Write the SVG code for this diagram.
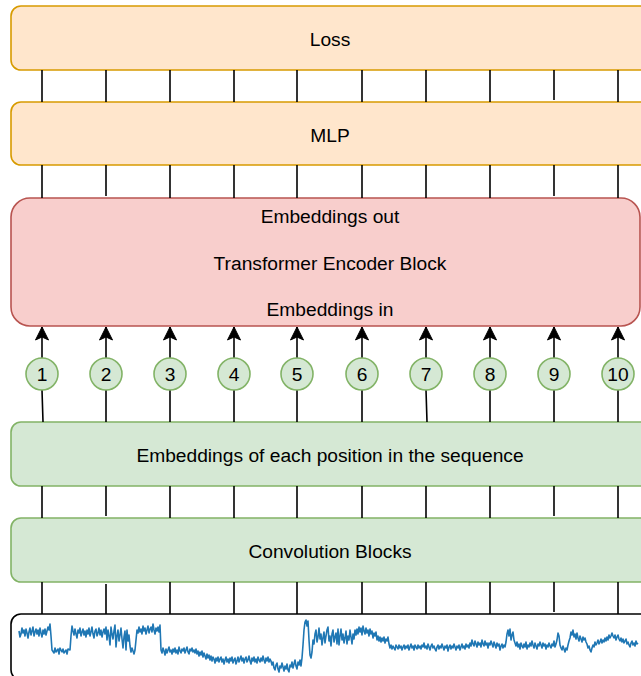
<svg xmlns="http://www.w3.org/2000/svg" width="641" height="676" viewBox="0 0 641 676">
<defs>
<style>
.orange{fill:#ffe6cc;stroke:#d79b00;stroke-width:1.6}
.pink{fill:#f8cecc;stroke:#b85450;stroke-width:1.6}
.green{fill:#d5e8d4;stroke:#82b366;stroke-width:1.6}
.sig{fill:#ffffff;stroke:#000000;stroke-width:1.6}
.lbl{font-family:"Liberation Sans",Arial,sans-serif;font-size:19.2px;fill:#000000;text-anchor:middle}
.conn line{stroke:#000000;stroke-width:1.6;fill:none}
.wave{fill:none;stroke:#1f77b4;stroke-width:1.6;stroke-linejoin:round}
</style>
<marker id="arr" markerUnits="userSpaceOnUse" markerWidth="16" markerHeight="16" viewBox="-14 -8 16 16" refX="0" refY="0" orient="auto">
<path d="M0,0 L-13,-6.5 L-10,0 L-13,6.5 Z" fill="#000000" stroke="#000000" stroke-width="1"/>
</marker>
</defs>
<rect x="0" y="0" width="641" height="676" fill="#ffffff"/>

<g id="loss">
<rect class="orange" x="11" y="6" width="640" height="64" rx="10" ry="10"/>
<text class="lbl" x="330" y="46">Loss</text>
</g>
<g id="mlp">
<rect class="orange" x="11" y="102" width="640" height="63" rx="10" ry="10"/>
<text class="lbl" x="330" y="142">MLP</text>
</g>
<g id="transformer">
<rect class="pink" x="11" y="198" width="629" height="128" rx="19" ry="19"/>
<text class="lbl" x="330" y="223">Embeddings out</text>
<text class="lbl" x="330" y="270">Transformer Encoder Block</text>
<text class="lbl" x="330" y="316">Embeddings in</text>
</g>
<g id="embeddings">
<rect class="green" x="11" y="422" width="640" height="64" rx="10" ry="10"/>
<text class="lbl" x="330" y="462">Embeddings of each position in the sequence</text>
</g>
<g id="convolution">
<rect class="green" x="11" y="518" width="640" height="64" rx="10" ry="10"/>
<text class="lbl" x="330" y="558">Convolution Blocks</text>
</g>
<g id="signal">
<rect class="sig" x="11" y="614" width="640" height="66" rx="10" ry="10"/>
<polyline class="wave" points="19,631 20,637 21,634 22,628 23,633 24,630 25,636 26,629 27,633 28,638 29,632 30,628 31,635 32,631 33,627 34,636 35,632 36,629 37,634 38,630 39,636 40,628 41,633 42,637 43,630 44,634 45,629 46,635 47,631 48,627 49,630 50,624 51,636 52,650 54,653 55,648 56,652 58,649 59,654 60,648 62,652 63,649 64,653 66,650 67,654 68,649 70,650 71,636 72,626 73,631 74,635 75,629 76,634 77,638 78,630 79,633 80,628 81,636 82,632 83,629 84,635 85,631 86,637 87,630 88,634 89,628 90,636 91,632 92,627 93,634 94,638 95,631 96,629 97,636 98,633 99,628 100,635 101,630 102,637 103,632 104,629 105,634 106,627 107,640 108,630 109,636 110,645 111,627 112,634 113,639 114,631 115,625 116,647 117,636 118,630 119,641 120,635 121,628 122,639 123,648 124,637 125,631 126,650 127,630 128,641 129,635 130,646 131,652 132,648 133,651 134,654 135,650 136,640 137,630 138,633 139,627 140,632 141,629 142,634 143,626 144,631 145,628 146,634 147,630 148,626 149,633 150,629 151,627 152,632 153,624 154,630 155,634 156,628 157,631 158,627 159,632 160,625 161,650 162,653 163,648 164,651 165,655 166,649 167,653 168,650 169,647 170,652 171,650 172,654 173,649 174,652 175,648 176,653 177,650 178,654 179,647 180,651 181,653 182,649 183,651 184,648 185,653 186,650 187,647 188,652 189,654 190,649 191,651 192,648 193,652 194,650 195,653 196,649 197,654 198,651 199,656 200,652 201,655 202,651 203,657 204,653 205,656 206,659 207,654 208,658 209,655 210,660 211,656 212,661 213,657 214,659 215,663 216,658 217,661 218,657 219,662 220,659 221,657 222,662 223,659 224,664 225,660 226,657 227,662 228,659 229,663 230,658 231,661 232,657 233,663 234,660 235,658 236,664 237,661 238,657 239,662 240,659 241,656 242,661 243,658 244,663 245,659 246,657 247,662 248,660 249,656 250,661 251,664 252,658 253,661 254,657 255,662 256,659 257,663 258,657 259,660 260,662 261,658 262,661 263,656 264,660 265,663 266,658 267,661 268,657 269,662 270,659 271,661 272,665 273,662 274,668 275,670 276,665 277,663 278,669 279,672 280,666 281,668 282,663 283,667 284,671 285,666 286,669 287,664 288,670 289,672 290,665 291,667 292,662 293,668 294,664 295,660 296,666 297,669 298,662 299,665 300,660 301,666 302,658 303,645 304,630 305,622 306,620 307,626 308,621 309,640 310,655 311,658 312,652 313,640 314,644 315,634 316,630 317,642 318,637 319,628 320,639 321,634 322,645 323,638 324,632 325,643 326,636 327,630 328,627 329,641 330,636 331,646 332,634 333,630 334,642 335,637 336,633 337,644 338,629 339,645 340,636 341,629 342,640 343,634 344,643 345,638 346,631 347,644 348,636 349,640 350,630 351,637 352,644 353,634 354,639 355,630 356,635 357,629 358,634 359,627 360,632 361,628 362,635 363,626 364,631 365,634 366,628 367,633 368,630 369,636 370,629 371,634 372,631 373,638 374,633 375,636 376,632 377,640 378,636 379,641 380,637 381,642 382,638 383,641 384,637 385,643 386,639 387,641 388,637 389,644 390,648 391,645 392,649 393,646 394,648 395,650 396,645 397,647 398,649 399,645 400,648 401,646 402,650 403,647 404,645 405,649 406,646 407,648 408,645 409,650 410,647 411,644 412,648 413,646 414,650 415,645 416,647 417,649 418,645 419,648 420,646 421,649 422,645 423,647 424,643 425,648 426,646 427,649 428,644 429,647 430,650 431,646 432,644 433,648 434,646 435,649 436,651 437,647 438,645 439,649 440,646 441,648 442,644 443,647 444,650 445,646 446,648 447,645 448,651 449,647 450,645 451,649 452,646 453,648 454,644 455,647 456,650 457,646 458,648 459,645 460,650 461,647 462,644 463,648 464,646 465,649 466,644 467,647 468,645 469,648 470,643 471,646 472,640 473,644 474,646 475,641 476,644 477,647 478,642 479,645 480,643 481,647 482,640 483,644 484,646 485,641 486,645 487,643 488,648 489,643 490,645 491,641 492,644 493,647 494,642 495,645 496,648 497,643 498,646 499,644 500,650 501,646 502,644 503,648 504,645 505,647 506,642 507,634 508,630 509,636 510,629 511,640 512,635 513,632 514,640 515,643 516,646 517,642 518,647 519,644 520,649 521,643 522,646 523,648 524,644 525,647 526,642 527,649 528,645 529,647 530,643 531,646 532,641 533,645 534,648 535,643 536,646 537,649 538,644 539,646 540,642 541,645 542,648 543,643 544,646 545,644 546,649 547,645 548,647 549,643 550,646 551,648 552,644 553,646 554,641 555,647 556,644 557,640 558,633 559,636 560,645 561,648 562,650 563,646 564,649 565,652 566,648 567,650 568,645 569,641 570,638 571,632 572,635 573,630 574,637 575,634 576,639 577,633 578,638 579,641 580,636 581,639 582,642 583,637 584,640 585,638 586,642 587,644 588,648 589,646 590,650 591,652 592,648 593,645 594,647 595,642 596,645 597,643 598,640 599,644 600,642 601,639 602,643 603,640 604,642 605,638 606,641 607,637 608,640 609,635 610,638 611,636 612,633 613,636 614,638 615,635 616,640 617,637 618,635 619,639 620,641 621,638 622,642 623,639 624,643 625,641 626,639 627,644 628,642 629,645 630,647 631,643 632,641 633,645 634,643 635,646 636,641 637,644 638,643"/>
</g>

<g id="connectors" class="conn">
<line x1="42" y1="70" x2="42" y2="102"/><line x1="106" y1="70" x2="106" y2="102"/><line x1="170" y1="70" x2="170" y2="102"/><line x1="234" y1="70" x2="234" y2="102"/><line x1="297" y1="70" x2="297" y2="102"/><line x1="362" y1="70" x2="362" y2="102"/><line x1="426" y1="70" x2="426" y2="102"/><line x1="490" y1="70" x2="490" y2="102"/><line x1="554" y1="70" x2="554" y2="100"/><line x1="618" y1="70" x2="618" y2="102"/>
<line x1="42" y1="165" x2="42" y2="198"/><line x1="106" y1="165" x2="106" y2="196"/><line x1="170" y1="165" x2="170" y2="198"/><line x1="234" y1="165" x2="234" y2="198"/><line x1="297" y1="165" x2="297" y2="198"/><line x1="362" y1="165" x2="362" y2="198"/><line x1="426" y1="165" x2="426" y2="198"/><line x1="490" y1="165" x2="490" y2="198"/><line x1="554" y1="165" x2="554" y2="196"/><line x1="618" y1="165" x2="618" y2="198"/>
<line x1="43" y1="422" x2="42" y2="390"/><line x1="106" y1="422" x2="106" y2="390"/><line x1="170" y1="422" x2="170" y2="390"/><line x1="234" y1="422" x2="234" y2="390"/><line x1="297" y1="422" x2="297" y2="390"/><line x1="362" y1="422" x2="362" y2="390"/><line x1="427" y1="422" x2="426" y2="390"/><line x1="490" y1="422" x2="490" y2="390"/><line x1="554" y1="422" x2="554" y2="390"/><line x1="618" y1="422" x2="618" y2="390"/>
<line x1="42" y1="358" x2="42" y2="327" marker-end="url(#arr)"/><line x1="106" y1="358" x2="106" y2="327" marker-end="url(#arr)"/><line x1="170" y1="358" x2="170" y2="327" marker-end="url(#arr)"/><line x1="234" y1="358" x2="234" y2="327" marker-end="url(#arr)"/><line x1="297" y1="358" x2="297" y2="327" marker-end="url(#arr)"/><line x1="362" y1="358" x2="362" y2="327" marker-end="url(#arr)"/><line x1="426" y1="358" x2="426" y2="327" marker-end="url(#arr)"/><line x1="490" y1="358" x2="490" y2="327" marker-end="url(#arr)"/><line x1="554" y1="358" x2="554" y2="327" marker-end="url(#arr)"/><line x1="618" y1="358" x2="618" y2="327" marker-end="url(#arr)"/>
<line x1="42" y1="486" x2="42" y2="518"/><line x1="106" y1="486" x2="106" y2="516"/><line x1="170" y1="486" x2="170" y2="518"/><line x1="234" y1="486" x2="234" y2="518"/><line x1="297" y1="486" x2="297" y2="518"/><line x1="362" y1="486" x2="362" y2="518"/><line x1="426" y1="486" x2="426" y2="518"/><line x1="490" y1="486" x2="490" y2="518"/><line x1="554" y1="486" x2="554" y2="516"/><line x1="618" y1="486" x2="618" y2="518"/>
<line x1="42" y1="582" x2="42" y2="614"/><line x1="106" y1="584" x2="106" y2="614"/><line x1="170" y1="582" x2="170" y2="614"/><line x1="234" y1="582" x2="234" y2="614"/><line x1="297" y1="582" x2="297" y2="614"/><line x1="362" y1="582" x2="362" y2="614"/><line x1="426" y1="582" x2="426" y2="614"/><line x1="490" y1="582" x2="490" y2="614"/><line x1="554" y1="582" x2="554" y2="612"/><line x1="618" y1="582" x2="618" y2="614"/>
</g>

<g id="pos1"><circle class="green" cx="42" cy="374" r="16"/><text class="lbl" x="42" y="381">1</text></g>
<g id="pos2"><circle class="green" cx="106" cy="374" r="16"/><text class="lbl" x="106" y="381">2</text></g>
<g id="pos3"><circle class="green" cx="170" cy="374" r="16"/><text class="lbl" x="170" y="381">3</text></g>
<g id="pos4"><circle class="green" cx="234" cy="374" r="16"/><text class="lbl" x="234" y="381">4</text></g>
<g id="pos5"><circle class="green" cx="297" cy="374" r="16"/><text class="lbl" x="297" y="381">5</text></g>
<g id="pos6"><circle class="green" cx="362" cy="374" r="16"/><text class="lbl" x="362" y="381">6</text></g>
<g id="pos7"><circle class="green" cx="426" cy="374" r="16"/><text class="lbl" x="426" y="381">7</text></g>
<g id="pos8"><circle class="green" cx="490" cy="374" r="16"/><text class="lbl" x="490" y="381">8</text></g>
<g id="pos9"><circle class="green" cx="554" cy="374" r="16"/><text class="lbl" x="554" y="381">9</text></g>
<g id="pos10"><circle class="green" cx="618" cy="374" r="16"/><text class="lbl" x="618" y="381">10</text></g>
</svg>
